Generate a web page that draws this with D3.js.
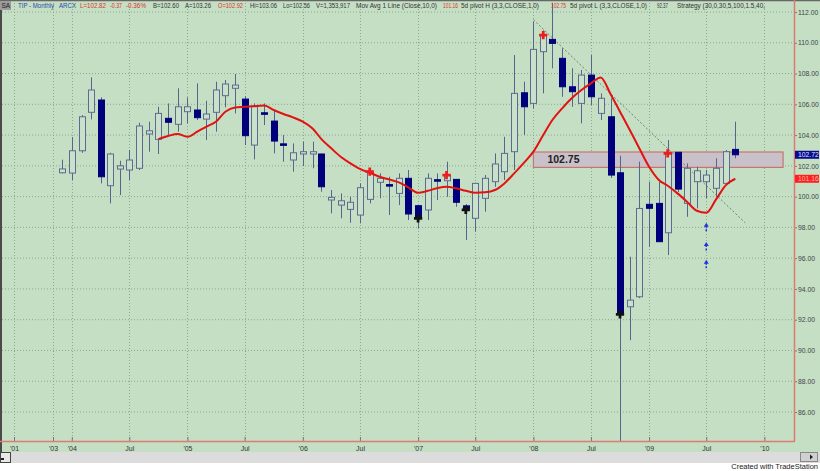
<!DOCTYPE html>
<html>
<head>
<meta charset="utf-8">
<script src="https://cdn.jsdelivr.net/npm/d3@7"></script>
<style>
body { margin: 0; background: #fff; }
svg { display: block; font-family: Arial, "Liberation Sans", sans-serif; }
</style>
</head>
<body>
<div id="chart"></div>
<script>
// monthly TIP bars, first bar Dec 2003
const firstMonth = new Date(2003, 11, 1);
const opens  = [101.55,101.53,102.98,105.48,106.28,100.71,101.79,101.73,101.84,104.07,103.72,105.09,104.70,105.52,105.63,105.04,105.48,106.56,107.04,106.34,103.35,105.45,104.91,103.43,102.38,102.77,102.77,102.77,99.78,99.45,99.17,98.80,99.82,100.93,100.78,100.21,101.19,99.41,99.13,101.10,101.03,101.12,99.40,98.59,99.89,100.97,101.62,102.92,106.75,106.06,109.42,110.22,108.99,107.14,106.06,107.90,105.41,105.19,101.55,92.84,93.49,99.50,99.56,97.65,102.88,99.56,100.97,100.97,100.54,100.86,103.07];
const highs  = [102.40,103.87,105.30,107.75,106.45,102.85,102.33,103.03,104.80,104.87,105.84,106.06,107.04,106.45,107.36,106.23,107.47,107.58,107.97,106.54,106.06,106.06,105.63,104.00,103.46,103.57,103.57,102.80,100.43,100.21,99.99,100.86,101.84,101.51,101.29,101.51,101.73,99.45,101.51,101.51,102.27,101.15,99.52,100.90,101.40,102.81,103.89,109.20,107.47,111.37,110.80,112.60,109.64,108.34,108.23,109.20,106.71,106.39,102.66,96.09,102.27,100.97,100.97,103.68,102.90,102.16,101.94,101.73,102.49,103.03,104.87];
const lows   = [101.50,101.08,102.85,105.02,100.86,99.56,100.10,101.08,101.73,102.92,102.77,104.00,104.22,104.76,104.98,103.68,104.22,105.80,105.41,103.35,102.42,104.65,102.81,102.27,101.62,101.99,101.84,100.32,98.91,98.59,98.30,98.26,99.56,99.89,98.80,99.45,98.48,97.94,98.48,99.78,99.99,99.34,97.18,97.72,99.02,100.64,101.08,101.73,104.00,105.74,106.71,108.34,106.49,105.84,104.76,105.95,104.98,101.21,84.00,90.67,93.40,96.74,97.07,96.20,100.30,98.69,99.23,99.89,99.99,100.75,102.49];
const closes = [101.80,102.98,105.19,106.93,101.29,102.77,102.00,102.38,104.59,104.28,105.41,104.83,105.84,105.84,105.13,105.37,106.93,107.32,107.25,103.96,105.84,105.35,103.61,103.38,102.85,102.92,102.92,100.64,99.95,99.73,99.63,100.58,101.62,101.19,100.72,101.19,98.87,98.65,101.19,101.05,101.40,99.63,99.20,100.86,101.19,102.12,102.81,106.71,105.84,109.57,110.50,109.96,107.14,106.82,107.90,106.49,106.39,101.40,92.41,93.27,99.23,99.24,97.07,102.81,100.49,101.84,101.68,101.40,101.84,102.92,102.72];

// 10-month moving average, starting at bar 10
const maStart = 10;
const maValues = [103.74,103.94,104.07,103.89,104.22,104.54,104.87,105.52,105.80,105.84,105.89,105.92,105.63,105.37,105.15,104.87,104.43,103.74,103.14,102.59,102.16,101.80,101.55,101.29,101.12,100.93,100.60,100.25,100.38,100.54,100.64,100.54,100.38,100.25,100.28,100.43,100.86,101.51,102.18,102.92,104.00,104.98,105.74,106.39,106.93,107.36,107.75,106.67,105.52,104.33,103.14,101.94,101.08,100.71,100.21,99.67,99.08,98.95,99.82,100.75,101.16];

const pivotHighBars = [32, 40, 50, 63];
const pivotLowBars = [37, 42, 58];

// 102.75 resistance zone
const zoneLabel = "102.75";
const zoneTop = 102.9;
const zoneBottom = 101.9;
const zoneFrom = new Date(2008, 0, 1);
const zoneTo = new Date(2010, 2, 1);

// dashed downtrend line
const trendFrom = { date: new Date(2008, 0, 1), value: 111.5 };
const trendTo = { date: new Date(2009, 10, 1), value: 98.3 };

// blue arrows under Jul 2009
const arrowDate = new Date(2009, 6, 1);
const arrowTips = [98.3, 97.05, 95.9];

const yTicks = [86, 88, 90, 92, 94, 96, 98, 100, 102, 104, 106, 108, 110, 112];
const xTickDates = ["2001-01","2003-01","2004-01","2004-07","2005-01","2005-07","2006-01","2006-07","2007-01","2007-07","2008-01","2008-07","2009-01","2009-07","2010-01"];
const xTickLabels = ["'01","'03","'04","Jul","'05","Jul","'06","Jul","'07","Jul","'08","Jul","'09","Jul","'10"];

const headerItems = [
  ["TIP - Monthly", 18, 36, "#2a49a8"],
  ["ARCX", 59, 17, "#2a49a8"],
  ["L=102.82", 80, 26, "#e0302a"],
  ["-0.37", 110, 12, "#e0302a"],
  ["-0.36%", 126, 20, "#e0302a"],
  ["B=102.60", 153, 26, "#333"],
  ["A=103.26", 185, 26, "#333"],
  ["O=102.92", 218, 25, "#e0302a"],
  ["Hi=103.06", 250, 27, "#333"],
  ["Lo=102.56", 283, 27, "#333"],
  ["V=1,353,917", 316, 34, "#333"],
  ["Mov Avg 1 Line (Close,10,0)", 356, 81, "#333"],
  ["101.16", 443, 15, "#e0302a"],
  ["5d pivot H (3,3,CLOSE,1,0)", 461, 78, "#333"],
  ["102.75", 551, 15, "#e0302a"],
  ["5d pivot L (3,3,CLOSE,1,0)", 570, 77, "#333"],
  ["92.37", 657, 11, "#333"],
  ["Strategy (30,0,30,5,100,1.5,40,", 677, 88, "#333"]
];

const width = 820;
const height = 471;
const plot = { left: 2, right: 794, top: 0, bottom: 441 };
const bg = "#c4dfc4";

const parseMonth = d3.timeParse("%Y-%m");
const bars = closes.map((c, i) => ({
  date: d3.timeMonth.offset(firstMonth, i),
  open: opens[i], high: highs[i], low: lows[i], close: c
}));
const ma = maValues.map((v, i) => ({ date: bars[maStart + i].date, value: v }));

const svg = d3.select("#chart").append("svg")
  .attr("width", width)
  .attr("height", height);

// x axis squeezes the empty years before the fund existed
const x = d3.scaleTime()
  .domain([new Date(2001, 0, 1), new Date(2003, 0, 1), firstMonth, new Date(2010, 0, 1)])
  .range([14, 53, 62, 764.4]);
const y = d3.scaleLinear().domain([86, 112]).range([412, 12]);

svg.append("rect").attr("width", width).attr("height", height).attr("fill", "#fff");
svg.append("rect").attr("width", width).attr("height", 452).attr("fill", bg);

// scrollbar strip
svg.append("rect").attr("x", 0).attr("y", 452).attr("width", width).attr("height", 11).attr("fill", "#dcdcdc");
svg.append("rect").attr("x", 0.5).attr("y", 452.5).attr("width", 10).attr("height", 10)
  .attr("fill", "#e8e8e8").attr("stroke", "#444");
svg.append("rect").attr("x", 1).attr("y", 458).attr("width", 3).attr("height", 2).attr("fill", "#222");
svg.append("rect").attr("x", 800.5).attr("y", 452.5).attr("width", 17).attr("height", 9)
  .attr("fill", "#d0d0d0").attr("stroke", "#888");
svg.append("path").attr("d", "M810,454.5L813,457L810,459.5Z").attr("fill", "#222");

// grid
const grid = svg.append("g");
grid.selectAll(".hg").data(yTicks).join("line")
  .attr("x1", plot.left).attr("x2", plot.right)
  .attr("y1", d => y(d)).attr("y2", d => y(d))
  .attr("stroke", "#8ea88e").attr("stroke-width", 1).attr("stroke-dasharray", "1,2");
grid.selectAll(".vg").data(xTickDates).join("line")
  .attr("x1", d => Math.round(x(parseMonth(d))) + 0.5).attr("x2", d => Math.round(x(parseMonth(d))) + 0.5)
  .attr("y1", 0).attr("y2", plot.bottom)
  .attr("stroke", "#8ea88e").attr("stroke-width", 1).attr("stroke-dasharray", "1,2");

// left edge and top border
svg.append("line").attr("x1", 1).attr("x2", 1).attr("y1", 0).attr("y2", 452).attr("stroke", "#4a4a4a").attr("stroke-width", 2);
svg.append("line").attr("x1", 0).attr("x2", width).attr("y1", 0.5).attr("y2", 0.5).attr("stroke", "#666").attr("stroke-width", 1.5);

svg.append("clipPath").attr("id", "clip")
  .append("rect").attr("x", plot.left).attr("y", plot.top)
  .attr("width", plot.right - plot.left).attr("height", plot.bottom - plot.top);
const g = svg.append("g").attr("clip-path", "url(#clip)");

// resistance zone
g.append("rect")
  .attr("x", x(zoneFrom)).attr("width", x(zoneTo) - x(zoneFrom))
  .attr("y", y(zoneTop)).attr("height", y(zoneBottom) - y(zoneTop))
  .attr("fill", "#c9c1c9").attr("stroke", "#c8756c").attr("stroke-width", 1.2);

// trend line
g.append("line")
  .attr("x1", x(trendFrom.date)).attr("y1", y(trendFrom.value))
  .attr("x2", x(trendTo.date)).attr("y2", y(trendTo.value))
  .attr("stroke", "#6f816f").attr("stroke-width", 1).attr("stroke-dasharray", "2,2");

// candles
const candle = g.selectAll(".bar").data(bars).join("g");
candle.append("line")
  .attr("x1", d => Math.round(x(d.date)) + 0.5).attr("x2", d => Math.round(x(d.date)) + 0.5)
  .attr("y1", d => y(d.high)).attr("y2", d => y(d.low))
  .attr("stroke", "#56658c").attr("stroke-width", 1);
candle.append("rect")
  .attr("x", d => Math.round(x(d.date)) - 2.5)
  .attr("width", 6)
  .attr("y", d => y(Math.max(d.open, d.close)))
  .attr("height", d => Math.max(1.5, Math.abs(y(d.open) - y(d.close))))
  .attr("fill", d => d.close >= d.open ? "#c9e0cb" : "#00007c")
  .attr("stroke", d => d.close >= d.open ? "#5d6c8e" : "#00007c")
  .attr("stroke-width", 1);

// moving average
g.append("path").datum(ma)
  .attr("fill", "none")
  .attr("stroke", "#e31212")
  .attr("stroke-width", 2)
  .attr("stroke-linejoin", "round")
  .attr("d", d3.line().x(d => x(d.date)).y(d => y(d.value)).curve(d3.curveMonotoneX));

// pivot markers at the closes
const cross = d3.symbol().type(d3.symbolCross).size(38);
g.selectAll(".ph").data(pivotHighBars).join("path")
  .attr("transform", i => `translate(${x(bars[i].date)},${y(bars[i].close)})`)
  .attr("d", cross).attr("fill", "#ee1c1c");
g.selectAll(".pl").data(pivotLowBars).join("path")
  .attr("transform", i => `translate(${x(bars[i].date)},${y(bars[i].close) + 1})`)
  .attr("d", cross).attr("fill", "#111");

// blue arrows
const ax = x(arrowDate);
arrowTips.forEach(v => {
  const ty = y(v);
  g.append("line").attr("x1", ax).attr("x2", ax).attr("y1", ty + 3).attr("y2", ty + 10)
    .attr("stroke", "#2233dd").attr("stroke-width", 1.5).attr("stroke-dasharray", "2,1.5");
  g.append("path").attr("d", `M${ax},${ty}L${ax - 2.5},${ty + 4}L${ax + 2.5},${ty + 4}Z`).attr("fill", "#2233dd");
});

// zone label
g.append("text")
  .attr("x", x(zoneFrom) + 14).attr("y", y((zoneTop + zoneBottom) / 2) + 3.5)
  .attr("font-size", 10.5).attr("font-weight", "bold").attr("fill", "#222")
  .text(zoneLabel);

// right price axis
const yAxis = svg.append("g").attr("transform", `translate(${plot.right},0)`)
  .call(d3.axisRight(y).tickValues(yTicks).tickFormat(d3.format(".2f")).tickSize(3).tickPadding(1));
yAxis.select(".domain").remove();
yAxis.selectAll("line").attr("stroke", "#777");
yAxis.selectAll("text").attr("font-size", 6.8).attr("fill", "#444").attr("font-family", "Arial, sans-serif");

// bottom time axis
const xAxis = svg.append("g").attr("transform", `translate(0,${plot.bottom})`)
  .call(d3.axisBottom(x).tickValues(xTickDates.map(parseMonth))
    .tickFormat((d, i) => xTickLabels[i]).tickSize(-4).tickPadding(5));
xAxis.select(".domain").remove();
xAxis.selectAll("line").attr("stroke", "#777");
xAxis.selectAll("text").attr("font-size", 7).attr("fill", "#333").attr("font-family", "Arial, sans-serif");

// red frame lines
svg.append("line").attr("x1", plot.right + 0.5).attr("x2", plot.right + 0.5).attr("y1", 0).attr("y2", plot.bottom)
  .attr("stroke", "#e07a74").attr("stroke-width", 1.5);
svg.append("line").attr("x1", 0).attr("x2", plot.right + 1).attr("y1", plot.bottom + 0.5).attr("y2", plot.bottom + 0.5)
  .attr("stroke", "#e07a74").attr("stroke-width", 1.5);

// last value tags
const lastBar = bars[bars.length - 1];
const lastMa = ma[ma.length - 1];
[[lastBar.close, "#0a0a8a", "#dfe3ff"], [lastMa.value, "#ff1f1f", "#ffb0b0"]].forEach(([v, fill, tc]) => {
  svg.append("rect").attr("x", plot.right + 1).attr("y", y(v) - 4).attr("width", 24).attr("height", 8).attr("fill", fill);
  svg.append("text").attr("x", plot.right + 4).attr("y", y(v) + 2.5)
    .attr("font-size", 6.8).attr("fill", tc).text(d3.format(".2f")(v));
});

// header
svg.append("rect").attr("x", 0).attr("y", 1).attr("width", 11).attr("height", 9).attr("fill", "#9c9c9c");
svg.append("text").attr("x", 1.5).attr("y", 8).attr("font-size", 6.5).attr("fill", "#222").text("SA");
svg.selectAll(".hdr").data(headerItems).join("text")
  .attr("x", d => d[1]).attr("y", 8)
  .attr("font-size", 6.5)
  .attr("fill", d => d[3])
  .attr("textLength", d => d[2])
  .attr("lengthAdjust", "spacingAndGlyphs")
  .text(d => d[0]);

svg.append("text").attr("x", 818).attr("y", 469).attr("text-anchor", "end")
  .attr("font-size", 7.5).attr("fill", "#222").text("Created with TradeStation");
</script>
</body>
</html>
